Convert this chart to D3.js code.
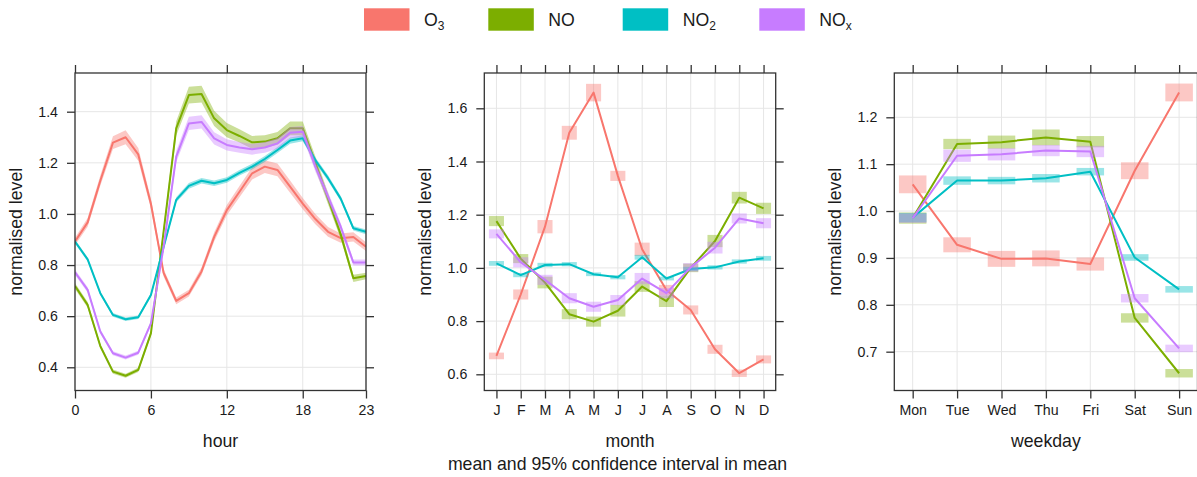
<!DOCTYPE html>
<html><head><meta charset="utf-8">
<script src="https://cdn.jsdelivr.net/npm/d3@7"></script>
<style>
body{margin:0;background:#fff;}
svg{display:block;font-family:"Liberation Sans",Arial,sans-serif;}
</style></head>
<body><svg id="chart" width="1197" height="477"></svg>
<script>
// ---------- data ----------
const seriesNames = ["O3","NO","NO2","NOx"];
const seriesColors = ["#F8766D","#7CAE00","#00BFC4","#C77CFF"];

const hours = d3.range(0,24);
const hourO3  = [0.892,0.967,1.13,1.279,1.30,1.233,1.04,0.77,0.66,0.69,0.775,0.91,1.015,1.087,1.159,1.185,1.172,1.107,1.04,0.98,0.93,0.905,0.91,0.872];
const hourNO  = [0.718,0.644,0.483,0.383,0.367,0.39,0.533,0.93,1.335,1.465,1.469,1.374,1.328,1.305,1.28,1.283,1.296,1.335,1.335,1.2,1.06,0.92,0.748,0.757];
const hourNO2 = [0.892,0.822,0.69,0.605,0.588,0.596,0.683,0.87,1.055,1.11,1.13,1.12,1.133,1.161,1.185,1.215,1.25,1.287,1.296,1.21,1.14,1.06,0.944,0.93];
const hourNOx = [0.772,0.703,0.54,0.455,0.438,0.457,0.572,0.87,1.224,1.354,1.36,1.296,1.27,1.26,1.253,1.26,1.276,1.318,1.322,1.185,1.068,0.95,0.81,0.81];
const hourCiO3  = [0.015,0.017,0.02,0.025,0.027,0.025,0.02,0.015,0.013,0.013,0.015,0.018,0.02,0.022,0.024,0.025,0.025,0.024,0.022,0.02,0.019,0.018,0.018,0.017];
const hourCiNO  = [0.012,0.011,0.009,0.008,0.008,0.008,0.01,0.02,0.028,0.033,0.033,0.03,0.028,0.026,0.025,0.025,0.025,0.027,0.027,0.025,0.022,0.018,0.014,0.013];
const hourCiNO2 = [0.008,0.008,0.007,0.007,0.007,0.007,0.008,0.009,0.01,0.011,0.011,0.011,0.011,0.011,0.011,0.012,0.012,0.012,0.012,0.011,0.011,0.01,0.009,0.009];
const hourCiNOx = [0.011,0.01,0.009,0.008,0.008,0.008,0.009,0.015,0.022,0.026,0.026,0.024,0.022,0.021,0.021,0.021,0.021,0.022,0.022,0.02,0.018,0.015,0.012,0.012];
const hourTicks = [0,6,12,18,23];

const months = ["J","F","M","A","M","J","J","A","S","O","N","D"];
const monthO3  = [0.669,0.90,1.155,1.508,1.659,1.346,1.07,0.917,0.842,0.694,0.604,0.656];
const monthNO  = [1.176,1.035,0.945,0.826,0.798,0.839,0.93,0.875,1.0,1.101,1.264,1.224];
const monthNO2 = [1.017,0.973,1.011,1.014,0.976,0.965,1.04,0.96,0.996,1.002,1.024,1.036];
const monthNOx = [1.128,1.021,0.955,0.886,0.854,0.879,0.96,0.905,1.002,1.076,1.186,1.168];
const monthCiO3  = [0.0125,0.019,0.025,0.026,0.033,0.019,0.025,0.019,0.017,0.017,0.014,0.015];
const monthCiNO  = [0.019,0.017,0.022,0.019,0.019,0.022,0.02,0.022,0.016,0.023,0.022,0.021];
const monthCiNO2 = [0.009,0.008,0.008,0.008,0.007,0.008,0.009,0.007,0.008,0.008,0.008,0.009];
const monthCiNOx = [0.017,0.019,0.019,0.019,0.019,0.019,0.021,0.019,0.016,0.022,0.019,0.019];

const weekdays = ["Mon","Tue","Wed","Thu","Fri","Sat","Sun"];
const dayO3  = [1.057,0.928,0.898,0.899,0.887,1.086,1.253];
const dayNO  = [0.985,1.143,1.147,1.157,1.148,0.772,0.654];
const dayNO2 = [0.986,1.065,1.065,1.07,1.084,0.901,0.833];
const dayNOx = [0.985,1.118,1.121,1.129,1.127,0.814,0.707];
const dayCiO3  = [0.019,0.016,0.017,0.017,0.014,0.018,0.019];
const dayCiNO  = [0.012,0.011,0.014,0.017,0.012,0.01,0.009];
const dayCiNO2 = [0.01,0.009,0.008,0.009,0.008,0.007,0.007];
const dayCiNOx = [0.01,0.013,0.013,0.012,0.012,0.009,0.008];

const yTicksHour = [0.4,0.6,0.8,1.0,1.2,1.4];
const yTicksMonth = [0.6,0.8,1.0,1.2,1.4,1.6];
const yTicksDay = [0.7,0.8,0.9,1.0,1.1,1.2];

// ---------- drawing ----------
const svg = d3.select("#chart");
const TXT = "#1a1a1a", BOX = "#333", GRID = "#e6e6e6";
const yTop = 73, yBot = 390.5;
const TITLE_FS = "17.7px", TICK_FS = "14.2px";

function panel(opt){
  const g = svg.append("g");
  const x = d3.scaleLinear().domain(opt.xDomain).range([opt.left, opt.right]);
  const y = d3.scaleLinear().domain(opt.yDomain).range([yBot, yTop]);
  // grid
  g.selectAll(null).data(opt.xTicks).join("line")
    .attr("x1",d=>x(d)).attr("x2",d=>x(d)).attr("y1",yTop).attr("y2",yBot)
    .attr("stroke",GRID).attr("stroke-width",1);
  g.selectAll(null).data(opt.yTicks).join("line")
    .attr("y1",d=>y(d)).attr("y2",d=>y(d)).attr("x1",opt.left).attr("x2",opt.right)
    .attr("stroke",GRID).attr("stroke-width",1);
  // data
  const clip = "clip"+opt.id;
  svg.append("clipPath").attr("id",clip).append("rect")
    .attr("x",opt.left).attr("y",yTop).attr("width",opt.right-opt.left).attr("height",yBot-yTop);
  const dg = g.append("g").attr("clip-path",`url(#${clip})`);
  opt.series.forEach((s,i)=>{
    const col = seriesColors[i];
    const pts = s.vals.map((v,j)=>({x:opt.xVals[j], v, c:s.ci[j]}));
    if(opt.kind==="band"){
      dg.append("path").datum(pts)
        .attr("d", d3.area().x(d=>x(d.x)).y0(d=>y(d.v-d.c)).y1(d=>y(d.v+d.c)))
        .attr("fill",col).attr("fill-opacity",0.4);
    } else {
      const bw = (x(1)-x(0))*0.62;
      dg.selectAll(null).data(pts).join("rect")
        .attr("x",d=>x(d.x)-bw/2).attr("width",bw)
        .attr("y",d=>y(d.v+d.c)).attr("height",d=>y(d.v-d.c)-y(d.v+d.c))
        .attr("fill",col).attr("fill-opacity",0.4);
    }
    dg.append("path").datum(pts)
      .attr("d", d3.line().x(d=>x(d.x)).y(d=>y(d.v)))
      .attr("fill","none").attr("stroke",col).attr("stroke-width",2)
      .attr("stroke-linejoin","round");
  });
  // axes
  const fmtX = opt.xLabels ? (d=>opt.xLabels[d-1]) : d3.format("d");
  const ax = g.append("g").attr("transform",`translate(0,${yBot})`)
    .call(d3.axisBottom(x).tickValues(opt.xTicks).tickFormat(fmtX).tickSize(8).tickPadding(6.5).tickSizeOuter(0));
  const axT = g.append("g").attr("transform",`translate(0,${yTop})`)
    .call(d3.axisTop(x).tickValues(opt.xTicks).tickFormat("").tickSize(8).tickSizeOuter(0));
  const ay = g.append("g").attr("transform",`translate(${opt.left},0)`)
    .call(d3.axisLeft(y).tickValues(opt.yTicks).tickFormat(d3.format(".1f")).tickSize(8).tickPadding(9).tickSizeOuter(0));
  const ayR = g.append("g").attr("transform",`translate(${opt.right},0)`)
    .call(d3.axisRight(y).tickValues(opt.yTicks).tickFormat("").tickSize(8).tickSizeOuter(0));
  [ax,axT,ay,ayR].forEach(a=>{
    a.select(".domain").remove();
    a.selectAll(".tick line").attr("stroke",BOX).attr("stroke-width",1.3);
    a.selectAll("text").attr("fill",TXT).style("font-size",TICK_FS).style("font-family","Liberation Sans, Arial, sans-serif");
  });
  // box
  g.append("rect").attr("x",opt.left).attr("y",yTop).attr("width",opt.right-opt.left).attr("height",yBot-yTop)
    .attr("fill","none").attr("stroke",BOX).attr("stroke-width",1.3);
  // titles
  g.append("text").attr("x",(opt.left+opt.right)/2).attr("y",446.5).attr("text-anchor","middle")
    .attr("fill",TXT).style("font-size",TITLE_FS).text(opt.xTitle);
  g.append("text").attr("transform",`translate(${opt.left-53},${(yTop+yBot)/2}) rotate(-90)`)
    .attr("text-anchor","middle").attr("fill",TXT).style("font-size",TITLE_FS).text("normalised level");
}

panel({id:1,kind:"band",left:75,right:366,xDomain:[0,23],yDomain:[0.3092,1.5514],
  xVals:hours,xTicks:hourTicks,yTicks:yTicksHour,xTitle:"hour",
  series:[{vals:hourO3,ci:hourCiO3},{vals:hourNO,ci:hourCiNO},{vals:hourNO2,ci:hourCiNO2},{vals:hourNOx,ci:hourCiNOx}]});
panel({id:2,kind:"box",left:484.3,right:775.7,xDomain:[0.5,12.5],yDomain:[0.5391,1.7327],
  xVals:d3.range(1,13),xTicks:d3.range(1,13),xLabels:months,yTicks:yTicksMonth,xTitle:"month",
  series:[{vals:monthO3,ci:monthCiO3},{vals:monthNO,ci:monthCiNO},{vals:monthNO2,ci:monthCiNO2},{vals:monthNOx,ci:monthCiNOx}]});
panel({id:3,kind:"box",left:894.3,right:1197.5,xDomain:[0.586,7.414],yDomain:[0.6172,1.2945],
  xVals:d3.range(1,8),xTicks:d3.range(1,8),xLabels:weekdays,yTicks:yTicksDay,xTitle:"weekday",
  series:[{vals:dayO3,ci:dayCiO3},{vals:dayNO,ci:dayCiNO},{vals:dayNO2,ci:dayCiNO2},{vals:dayNOx,ci:dayCiNOx}]});

// subtitle
svg.append("text").attr("x",617.5).attr("y",470).attr("text-anchor","middle")
  .attr("fill",TXT).style("font-size",TITLE_FS).text("mean and 95% confidence interval in mean");

// legend
const legendX = [364,488.3,622.7,759.3];
const legendLabels = [["O","3"],["NO",""],["NO","2"],["NO","x"]];
const lg = svg.append("g");
seriesNames.forEach((n,i)=>{
  lg.append("rect").attr("x",legendX[i]).attr("y",8.3).attr("width",45.5).attr("height",22.4).attr("fill",seriesColors[i]);
  const t = lg.append("text").attr("x",legendX[i]+60).attr("y",25.5).attr("fill",TXT).style("font-size",TITLE_FS);
  t.append("tspan").text(legendLabels[i][0]);
  if(legendLabels[i][1]) t.append("tspan").attr("dy",4).style("font-size","12px").text(legendLabels[i][1]);
});
</script></body></html>
